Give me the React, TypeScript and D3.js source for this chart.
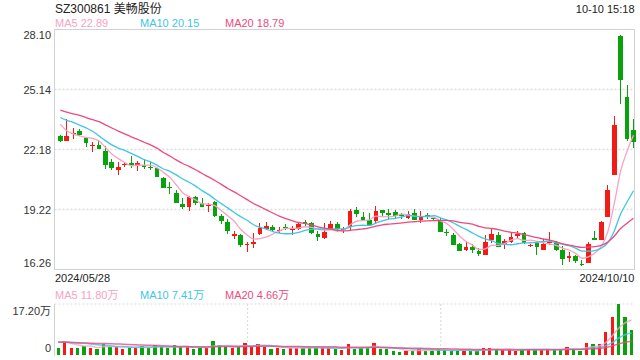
import React from 'react'
import { scaleBand, scaleLinear, line, curveMonotoneX } from 'd3'

const WIDTH = 640
const HEIGHT = 360
const LEFT = 54.5
const RIGHT = 634.5
const P_TOP = 29.5
const P_BOT = 269.5
const V_TOP = 304
const V_BOT = 355

const FONT = '"Liberation Sans", Arial, "Noto Sans CJK SC", sans-serif'
const UP = '#f21b16'
const DOWN = '#08a30c'
const GRID = '#dcdcdc'
const BORDER = '#d2d2d2'

const title = 'SZ300861 美畅股份'
const timeLabel = '10-10 15:18'
const dateLabels = ['2024/05/28', '2024/10/10']
const priceTicks = [28.10, 25.14, 22.18, 19.22, 16.26]
const volTicks = [17.20, 0]
const volGridIdx = [29, 59]
const maPeriods = [5, 10, 20]
const maColors = ['#f9a2c2', '#3ec6e6', '#ee4a80']

const opens = [
  22.87, 22.62, 22.95, 23.10, 22.76, 22.39, 22.41, 22.10, 21.57, 21.18,
  21.41, 21.49, 21.44, 21.41, 21.34, 21.26, 20.78, 20.31, 20.04, 19.50,
  19.32, 19.83, 19.53, 19.41, 19.57, 18.90, 18.60, 17.93, 17.96, 17.45,
  17.52, 18.01, 18.26, 18.36, 18.16, 18.36, 18.23, 18.26, 18.60, 18.57,
  18.01, 17.83, 18.27, 18.52, 18.19, 18.37, 19.20, 18.85, 18.70, 18.67,
  19.20, 19.03, 19.10, 18.98, 18.82, 19.06, 18.72, 18.93, 18.78, 18.67,
  18.11, 17.96, 17.52, 17.22, 17.35, 17.19, 17.00, 17.72, 17.97, 17.54,
  17.64, 17.92, 18.08, 17.41, 17.56, 17.23, 17.56, 17.62, 17.23, 16.82,
  16.93, 16.54, 16.60, 17.82, 17.72, 18.87, 20.93, 27.79, 24.79, 23.15,
]
const closes = [
  22.62, 22.87, 23.00, 22.90, 22.48, 22.42, 22.21, 21.41, 21.29, 21.32,
  21.46, 21.44, 21.51, 21.34, 21.29, 20.83, 20.29, 20.27, 19.52, 19.32,
  19.83, 19.52, 19.32, 19.46, 18.92, 18.65, 18.18, 18.00, 17.49, 17.50,
  17.62, 18.31, 18.41, 18.21, 18.21, 18.31, 18.29, 18.51, 18.52, 18.04,
  17.86, 18.11, 18.52, 18.27, 18.24, 19.16, 19.01, 18.70, 18.44, 19.15,
  19.03, 18.97, 18.88, 18.92, 19.00, 18.70, 18.90, 18.85, 18.74, 18.11,
  18.06, 17.49, 17.17, 17.37, 17.22, 17.02, 17.63, 17.99, 17.39, 17.67,
  17.85, 18.00, 17.56, 17.46, 17.36, 17.53, 17.68, 17.20, 16.76, 16.94,
  16.69, 16.49, 17.53, 17.74, 18.58, 20.19, 23.40, 25.62, 22.69, 22.53,
]
const highs = [
  22.92, 23.68, 23.23, 23.18, 22.82, 22.54, 22.64, 22.34, 21.72, 21.56,
  21.57, 21.87, 21.60, 21.72, 21.56, 21.33, 20.83, 20.59, 20.19, 19.81,
  19.89, 19.89, 19.78, 19.56, 19.64, 18.98, 18.73, 18.14, 18.01, 17.62,
  18.04, 18.54, 18.62, 18.46, 18.37, 18.50, 18.41, 18.62, 18.70, 18.60,
  18.14, 18.57, 18.64, 18.62, 18.34, 19.23, 19.33, 19.10, 19.06, 19.39,
  19.20, 19.23, 19.20, 19.03, 19.16, 19.26, 19.16, 19.03, 18.80, 18.78,
  18.24, 18.04, 17.58, 17.65, 17.52, 17.30, 17.96, 18.27, 18.13, 17.77,
  18.10, 18.15, 18.12, 17.53, 17.63, 17.76, 18.13, 17.69, 17.43, 17.10,
  16.97, 16.72, 17.63, 18.18, 18.66, 20.44, 23.81, 27.82, 25.37, 23.68,
]
const lows = [
  22.56, 22.62, 22.72, 22.87, 22.30, 22.06, 22.20, 21.23, 21.16, 20.90,
  21.34, 21.29, 21.11, 21.24, 21.18, 20.80, 20.29, 19.99, 19.52, 19.24,
  19.15, 19.42, 19.32, 19.10, 18.87, 18.49, 18.03, 17.75, 17.39, 17.11,
  17.30, 17.98, 18.21, 18.16, 18.04, 18.21, 17.96, 18.21, 18.42, 18.01,
  17.65, 17.78, 18.21, 18.11, 18.04, 18.21, 18.87, 18.65, 18.41, 18.49,
  18.90, 18.75, 18.82, 18.74, 18.74, 18.70, 18.54, 18.74, 18.70, 18.11,
  17.93, 17.49, 17.17, 17.17, 17.09, 16.91, 16.97, 17.56, 17.39, 17.28,
  17.56, 17.81, 17.51, 17.36, 16.98, 17.20, 17.48, 17.15, 16.47, 16.62,
  16.57, 16.42, 16.60, 17.74, 17.72, 18.87, 20.93, 24.43, 22.62, 22.25,
]
// volume in 万
const volumes = [
  2.46, 4.72, 2.46, 2.46, 3.04, 2.46, 2.12, 3.71, 2.80, 2.80,
  2.12, 2.46, 2.46, 3.04, 2.46, 3.37, 2.80, 2.46, 3.37, 2.80,
  2.80, 2.12, 2.46, 2.46, 4.72, 3.37, 2.80, 2.46, 2.80, 4.05,
  2.80, 3.71, 2.80, 2.12, 2.46, 2.12, 2.46, 2.46, 2.46, 2.46,
  2.46, 2.46, 2.46, 2.12, 1.69, 3.71, 2.12, 2.46, 2.46, 4.05,
  2.12, 2.12, 1.35, 1.01, 1.45, 1.45, 2.12, 1.45, 1.45, 2.12,
  1.69, 1.45, 1.45, 1.45, 1.45, 1.45, 2.46, 2.46, 1.92, 1.92,
  1.92, 1.45, 1.92, 1.92, 1.69, 1.92, 1.92, 1.69, 1.92, 2.80,
  1.92, 1.45, 4.20, 3.71, 3.82, 7.60, 12.70, 17.20, 12.90, 8.60,
]
// sessions before 2024/05/28, only feeding the moving averages
const prevCloses = [
  24.90, 24.60, 24.30, 24.70, 24.50, 24.20, 24.60, 24.40, 24.30, 24.30,
  24.30, 24.00, 24.20, 23.90, 24.05, 24.52, 23.75, 23.40, 22.86,
]
const prevVolumes = [
  4.0, 4.3, 3.8, 4.5, 4.2, 4.0, 4.4, 3.9, 4.1, 4.3,
  4.6, 4.2, 4.4, 4.0, 4.5, 5.2, 4.8, 5.0, 4.9,
]

const movingAvg = (prev: number[], vals: number[], n: number) => {
  const all = prev.concat(vals)
  return vals.map((_, i) => {
    const end = prev.length + i
    let s = 0
    for (let k = end - n + 1; k <= end; k++) s += all[k]
    return s / n
  })
}

const idx = closes.map((_, i) => i)
const x = scaleBand<number>().domain(idx).range([57.1, 636.7])
const step = x.step()
const cx = (i: number) => (x(i) as number) + step / 2
const y = scaleLinear().domain([priceTicks[priceTicks.length - 1], priceTicks[0]]).range([P_BOT, P_TOP])
const yv = scaleLinear().domain([0, volTicks[0]]).range([V_BOT, V_TOP])

const priceMA = maPeriods.map(n => movingAvg(prevCloses, closes, n))
const volMA = maPeriods.map(n => movingAvg(prevVolumes, volumes, n))

const App = () => {
  const priceLine = line<number>().x((_, i) => cx(i)).y(d => y(d)).curve(curveMonotoneX)
  const volLine = line<number>().x((_, i) => cx(i) - 2).y(d => yv(d)).curve(curveMonotoneX)
  const bodyW = 4.7

  return (
    <svg width={WIDTH} height={HEIGHT} style={{ position: 'absolute', left: 0, top: 0, fontFamily: FONT }}>
      <rect width={WIDTH} height={HEIGHT} fill="#fff" />

      {/* header */}
      <text x={55} y={13} fontSize={12} fill="#222">{title}</text>
      <text x={RIGHT} y={13} fontSize={11} fill="#222" textAnchor="end">{timeLabel}</text>
      {maPeriods.map((n, k) => (
        <text key={n} x={55 + k * 85} y={27} fontSize={11} fill={maColors[k]}>
          {`MA${n} ${priceMA[k][closes.length - 1].toFixed(2)}`}
        </text>
      ))}

      {/* price grid */}
      {priceTicks.slice(1, -1).map(t => (
        <line key={t} x1={LEFT} x2={RIGHT} y1={y(t)} y2={y(t)} stroke={GRID} strokeWidth={1.5} strokeDasharray="2,2" />
      ))}
      {priceTicks.map((t, k) => {
        const ty = k === 0 ? y(t) + 9.5 : k === priceTicks.length - 1 ? y(t) - 3 : y(t) + 4
        return <text key={t} x={51} y={ty} fontSize={11} fill="#333" textAnchor="end">{t.toFixed(2)}</text>
      })}
      <rect x={LEFT} y={P_TOP} width={RIGHT - LEFT} height={P_BOT - P_TOP} fill="none" stroke={BORDER} />

      {/* candles */}
      <g shapeRendering="crispEdges">
        {idx.map(i => {
          const up = closes[i] >= opens[i]
          const c = up ? UP : DOWN
          const top = y(Math.max(opens[i], closes[i]))
          const bot = y(Math.min(opens[i], closes[i]))
          return (
            <g key={i}>
              <line x1={cx(i)} x2={cx(i)} y1={y(highs[i])} y2={y(lows[i])} stroke={c} />
              <rect x={cx(i) - bodyW / 2} y={top} width={bodyW} height={Math.max(1, bot - top)} fill={c} />
            </g>
          )
        })}
      </g>
      {priceMA.map((d, k) => (
        <path key={k} d={priceLine(d) || ''} fill="none" stroke={maColors[k]} strokeWidth={1.3} />
      ))}

      {/* dates */}
      <text x={55} y={281.5} fontSize={11} fill="#222">{dateLabels[0]}</text>
      <text x={RIGHT} y={281.5} fontSize={11} fill="#222" textAnchor="end">{dateLabels[1]}</text>

      {/* volume panel */}
      {maPeriods.map((n, k) => (
        <text key={n} x={55 + k * 85} y={298.5} fontSize={11} fill={maColors[k]}>
          {`MA${n} ${volMA[k][volumes.length - 1].toFixed(2)}万`}
        </text>
      ))}
      <line x1={LEFT} x2={RIGHT} y1={V_TOP} y2={V_TOP} stroke={GRID} strokeWidth={1.2} strokeDasharray="2,2" />
      {volGridIdx.map(i => (
        <line key={i} x1={cx(i) + 0.5} x2={cx(i) + 0.5} y1={V_TOP} y2={V_BOT + 1} stroke={GRID} strokeWidth={1.2} strokeDasharray="2,2" />
      ))}
      <line x1={LEFT} x2={LEFT} y1={V_TOP} y2={V_BOT + 1} stroke={BORDER} />
      <text x={51} y={315} fontSize={11} fill="#333" textAnchor="end">{`${volTicks[0].toFixed(2)}万`}</text>
      <text x={51} y={352} fontSize={11} fill="#333" textAnchor="end">{volTicks[1]}</text>
      <g shapeRendering="crispEdges">
        {idx.map(i => (
          <rect key={i} x={(x(i) as number) - 0.4} y={yv(volumes[i])} width={3.3} height={V_BOT - yv(volumes[i])}
            fill={closes[i] >= opens[i] ? UP : DOWN} />
        ))}
      </g>
      {volMA.map((d, k) => (
        <path key={k} d={volLine(d) || ''} fill="none" stroke={maColors[k]} strokeWidth={1.5} opacity={0.8} />
      ))}
    </svg>
  )
}

export default App
